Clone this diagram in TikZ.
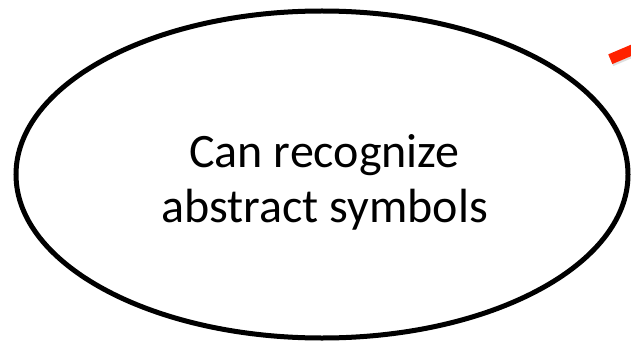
\documentclass[tikz,border=0pt]{standalone}
\usepackage{fontspec}
\setmainfont{Carlito}
\usetikzlibrary{shapes.geometric, positioning}

\definecolor{arrowred}{RGB}{255,34,0}

\begin{document}
\begin{tikzpicture}[
      x=1pt, y=-1pt,
      oval/.style={ellipse, draw, line width=5pt, inner sep=0pt, minimum width=612pt, minimum height=327pt},
      ovaltext/.style={align=center, font=\fontsize{48}{55}\selectfont},
      line/.style={draw, arrowred, line width=10.5pt, line cap=butt}
    ]
    \useasboundingbox (0,0) rectangle (631,342);
    \clip (0,0) rectangle (631,342);

    % Nodes
    \node[oval] (symbols) at (322,174.5) {};
    \node[ovaltext] (symtext) at ([xshift=2.5pt, yshift=-8pt]symbols.center) {Can recognize\\abstract symbols};
    \coordinate (tail) at (610.3,59.2);
    \coordinate (head) at (660,38.1);

    % Connections
    \draw[gray!25, line width=10.5pt] ([xshift=1pt, yshift=-2pt]tail) -- ([xshift=1pt, yshift=-2pt]head);
    \draw[line] (tail) -- (head);
  \end{tikzpicture}
\end{document}
